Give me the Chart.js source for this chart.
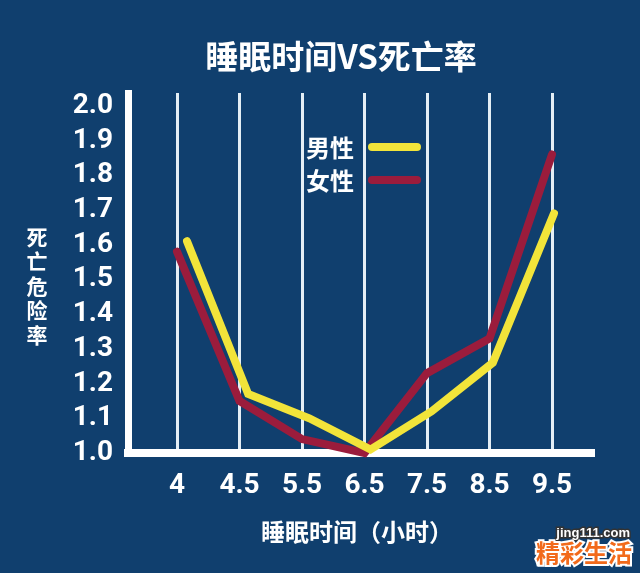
<!DOCTYPE html>
<html>
<head>
<meta charset="utf-8">
<script src="https://cdn.jsdelivr.net/npm/chart.js@4.4.1/dist/chart.umd.min.js"></script>
<style>
  html, body { margin: 0; padding: 0; background: #103f6e; }
  canvas { display: block; }
</style>
</head>
<body>
<canvas id="chart" width="640" height="573"></canvas>
<script>
const CATEGORIES = ['4', '4.5', '5.5', '6.5', '7.5', '8.5', '9.5']
const MALE   = [1.61, 1.17, 1.10, 1.01, 1.12, 1.26, 1.69]
const FEMALE = [1.58, 1.15, 1.04, 1.00, 1.23, 1.33, 1.86]
const SERIES_NAMES = ['男性', '女性']
const Y_MIN = 1.0, Y_MAX = 2.0

const BG     = '#103f6e'
const YELLOW = '#f2e43a'
const RED    = '#9b1c3c'
const CJK    = '"Noto Sans CJK SC", "Noto Sans", sans-serif'
const LATIN  = 'Roboto, "Liberation Sans", Arial, sans-serif'

const toPoints = vals => vals.map((y, i) => ({ x: i, y }))

// keep only the category ticks / the 0.1 steps
const onlyIndexTicks = scale => {
  scale.ticks = scale.ticks.filter(t => Number.isInteger(t.value) && t.value >= 0 && t.value < CATEGORIES.length)
}
const onlyTenthTicks = scale => {
  scale.ticks = scale.ticks.filter(t => Math.abs(t.value * 10 - Math.round(t.value * 10)) < 1e-6 && t.value <= Y_MAX + 1e-6)
}

const decor = {
  id: 'decor',
  beforeDraw(chart) {
    const c = chart.ctx
    c.save()
    c.fillStyle = BG
    c.fillRect(0, 0, chart.width, chart.height)
    c.restore()
  },
  afterDraw(chart) {
    const c = chart.ctx
    c.save()
    c.fillStyle = '#ffffff'
    c.textAlign = 'center'
    c.textBaseline = 'middle'

    // title
    c.font = `bold 33px ${CJK}`
    c.fillText('睡眠时间VS死亡率', 341, 56)

    // y title, one char per row
    c.font = `bold 21px ${CJK}`
    ;[...'死亡危险率'].forEach((ch, i) => c.fillText(ch, 37, 237 + i * 24.5))

    // x title
    c.font = `bold 24px ${CJK}`
    c.fillText('睡眠时间（小时）', 357, 532)

    // legend inside plot
    const colors = [YELLOW, RED]
    SERIES_NAMES.forEach((name, i) => {
      const y = 147 + i * 33
      c.fillStyle = '#ffffff'
      c.font = `bold 24px ${CJK}`
      c.textAlign = 'left'
      c.fillText(name, 306, y + 1)
      c.strokeStyle = colors[i]
      c.lineWidth = 8
      c.lineCap = 'round'
      c.beginPath()
      c.moveTo(372, y)
      c.lineTo(417, y)
      c.stroke()
    })

    // watermark
    c.textAlign = 'right'
    c.font = `bold 13px "Liberation Sans", Arial, sans-serif`
    c.lineWidth = 3
    c.strokeStyle = '#333333'
    c.strokeText('jing111.com', 630, 533)
    c.fillStyle = '#ffffff'
    c.fillText('jing111.com', 630, 533)
    c.font = `bold 24px ${CJK}`
    c.lineWidth = 4
    c.strokeStyle = '#ffffff'
    c.strokeText('精彩生活', 632, 553)
    c.fillStyle = '#f26a1b'
    c.fillText('精彩生活', 632, 553)
    c.restore()
  }
}

new Chart(document.getElementById('chart'), {
  type: 'line',
  data: {
    datasets: [
      {
        label: SERIES_NAMES[0],
        data: toPoints(MALE),
        xAxisID: 'xm',
        borderColor: YELLOW,
        borderWidth: 8,
        borderCapStyle: 'round',
        borderJoinStyle: 'miter',
        pointRadius: 0,
        clip: 12
      },
      {
        label: SERIES_NAMES[1],
        data: toPoints(FEMALE),
        xAxisID: 'x',
        borderColor: RED,
        borderWidth: 8,
        borderCapStyle: 'round',
        borderJoinStyle: 'miter',
        pointRadius: 0,
        clip: 12
      }
    ]
  },
  options: {
    responsive: false,
    animation: false,
    layout: { padding: { top: 93, right: 47, left: 0, bottom: 0 } },
    plugins: {
      legend: { display: false },
      tooltip: { enabled: false }
    },
    scales: {
      x: {
        type: 'linear',
        position: 'bottom',
        min: -0.784, max: 6.656,
        afterBuildTicks: onlyIndexTicks,
        afterFit: s => { s.height = 120 },
        grid: { color: 'rgba(240,248,252,0.95)', lineWidth: 3, drawTicks: false },
        border: { color: '#ffffff', width: 8 },
        ticks: {
          stepSize: 1,
          includeBounds: false,
          autoSkip: false,
          maxRotation: 0,
          padding: 19,
          color: '#ffffff',
          font: { family: LATIN, size: 28, weight: 'bold', lineHeight: 1 },
          callback: v => CATEGORIES[v]
        }
      },
      // male line sits a little right of the grid, on its own hidden scale
      xm: {
        type: 'linear',
        display: false,
        min: -0.9645, max: 6.638
      },
      y: {
        min: Y_MIN, max: 2.037,
        afterBuildTicks: onlyTenthTicks,
        afterFit: s => { s.width = 128 },
        grid: { display: false, drawTicks: false },
        border: { color: '#ffffff', width: 7 },
        ticks: {
          stepSize: 0.1,
          includeBounds: false,
          autoSkip: false,
          padding: 15,
          color: '#ffffff',
          font: { family: LATIN, size: 28, weight: 'bold', lineHeight: 1 },
          callback: v => v.toFixed(1)
        }
      }
    }
  },
  plugins: [decor]
})
</script>
</body>
</html>
